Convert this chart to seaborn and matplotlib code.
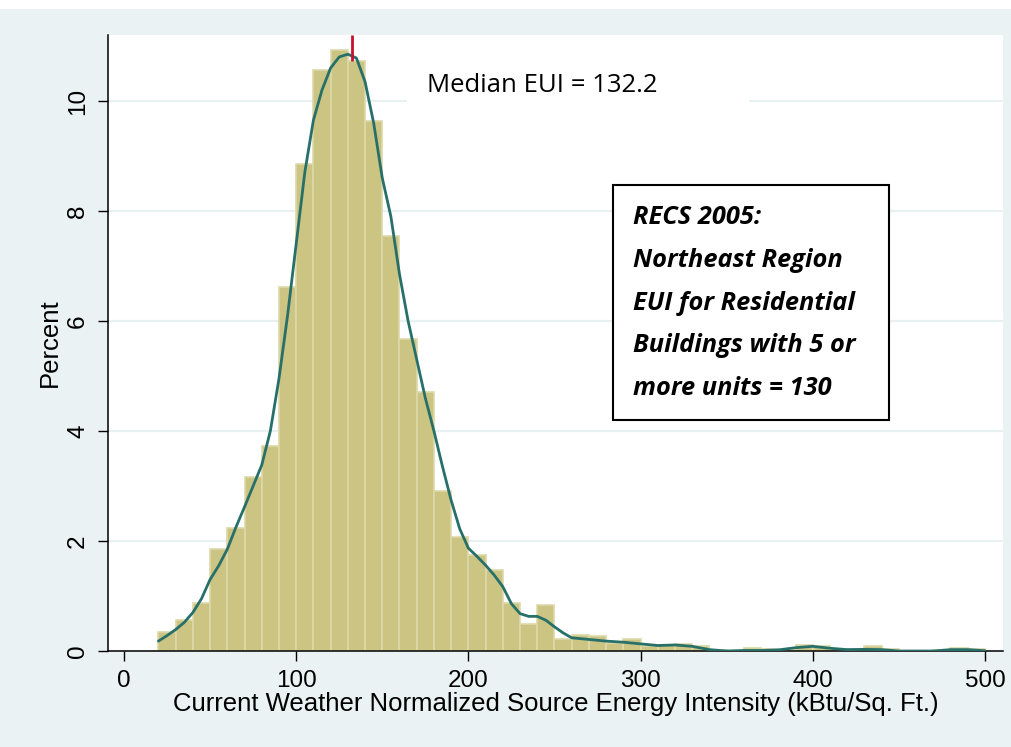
import numpy as np
import matplotlib
matplotlib.use("Agg")
import matplotlib.pyplot as plt
import seaborn as sns
from matplotlib.patches import Rectangle

# Histogram bins (left edges, width 10) and bar heights in percent
bin_left = [20, 30, 40, 50, 60, 70, 80, 90, 100, 110, 120, 130, 140, 150, 160, 170,
            180, 190, 200, 210, 220, 230, 240, 250, 260, 270, 280, 290, 300, 310, 320, 330,
            340, 350, 360, 370, 380, 390, 400, 410, 420, 430, 440, 450, 460, 470, 480, 490]
bin_pct = [0.35, 0.56, 0.88, 1.86, 2.24, 3.17, 3.73, 6.61, 8.85, 10.57, 10.92, 10.72, 9.63, 7.54, 5.68, 4.70,
           2.91, 2.07, 1.74, 1.47, 0.87, 0.50, 0.83, 0.22, 0.29, 0.27, 0.15, 0.21, 0.10, 0.11, 0.13, 0.09,
           0.02, 0.0, 0.05, 0.03, 0.02, 0.11, 0.10, 0.04, 0.03, 0.10, 0.03, 0.0, 0.0, 0.02, 0.05, 0.03]
bin_width = 10

# Kernel density curve
kde_x = [20, 25, 30, 35, 40, 45, 50, 55, 60, 65, 70, 75, 80, 85, 90, 95, 100, 105, 110, 115,
         120, 125, 130, 135, 140, 145, 150, 155, 160, 165, 170, 175, 180, 185, 190, 195, 200,
         205, 210, 215, 220, 225, 230, 235, 240, 245, 250, 255, 260, 270, 280, 290, 300, 310,
         320, 330, 340, 350, 360, 370, 380, 390, 400, 410, 420, 430, 440, 450, 460, 470, 480,
         490, 500]
kde_y = [0.18, 0.28, 0.39, 0.52, 0.70, 0.95, 1.30, 1.55, 1.85, 2.25, 2.62, 3.00, 3.38, 4.00,
         4.95, 6.10, 7.40, 8.70, 9.65, 10.20, 10.60, 10.80, 10.85, 10.78, 10.35, 9.60, 8.60,
         7.90, 6.85, 6.00, 5.30, 4.60, 4.00, 3.35, 2.74, 2.22, 1.87, 1.72, 1.56, 1.38, 1.17,
         0.86, 0.68, 0.63, 0.63, 0.56, 0.44, 0.33, 0.24, 0.21, 0.18, 0.16, 0.13, 0.10, 0.11,
         0.085, 0.025, 0.0, 0.01, 0.01, 0.02, 0.06, 0.085, 0.05, 0.025, 0.03, 0.025, 0.0, 0.0,
         0.0, 0.025, 0.025, 0.005]

median_eui = 132.2
median_label = "Median EUI = 132.2"
box_lines = ["RECS 2005:", "Northeast Region", "EUI for Residential",
             "Buildings with 5 or", "more units = 130"]
x_ticks = [0, 100, 200, 300, 400, 500]
y_ticks = [0, 2, 4, 6, 8, 10]

BG = "#eaf2f3"
BAR = "#cbc482"
BAR_EDGE = "#ddd8a8"
LINE = "#27706a"

sns.set_style("white")
plt.rcParams["font.family"] = ["Liberation Sans", "DejaVu Sans"]
plt.rcParams.update({"text.color": "black", "axes.labelcolor": "black",
                     "xtick.color": "black", "ytick.color": "black"})

fig = plt.figure(figsize=(10.11, 7.47), dpi=100, facecolor=BG)
# white strip along the top edge (cut-off title area)
fig.patches.append(Rectangle((0, 0.988), 1, 0.012, transform=fig.transFigure,
                             facecolor="white", edgecolor="none", zorder=0))
ax = fig.add_axes([0.1068, 0.1285, 0.8853, 0.8247])
ax.set_facecolor("white")

edges = bin_left + [bin_left[-1] + bin_width]
centers = [b + bin_width / 2 for b in bin_left]
sns.histplot(x=centers, weights=bin_pct, bins=edges, ax=ax, color=BAR, alpha=1,
             edgecolor=BAR_EDGE, linewidth=1.2, zorder=2)
sns.lineplot(x=kde_x, y=kde_y, ax=ax, color=LINE, linewidth=2.0, zorder=3)

ax.set_xlim(-9.3, 510.5)
ax.set_ylim(0, 11.2)
ax.set_xticks(x_ticks)
ax.set_yticks(y_ticks)
ax.set_yticklabels([str(t) for t in y_ticks], rotation=90, va="center")
ax.yaxis.grid(True, color="#e8f0f2", linewidth=1.6, zorder=0)
ax.set_axisbelow(True)

for s in ["top", "right"]:
    ax.spines[s].set_visible(False)
for s in ["left", "bottom"]:
    ax.spines[s].set_color("black")
    ax.spines[s].set_linewidth(1.1)
ax.tick_params(axis="both", direction="out", length=7.5, width=1, color="black",
               labelsize=17.5, pad=6, bottom=True, left=True)

ax.set_xlabel("Current Weather Normalized Source Energy Intensity (kBtu/Sq. Ft.)",
              fontsize=18.5, labelpad=0)
ax.set_ylabel("Percent", fontsize=18.5, labelpad=4)

# median marker
ax.vlines(median_eui, 10.72, 11.2, color="#c8102e", linewidth=2, zorder=4, clip_on=False)

# white box behind the median label
ax.add_patch(Rectangle((164.3, 9.75), 198.7, 0.9, facecolor="white",
                       edgecolor="none", zorder=1))
ax.text(176, 10.16, median_label, fontsize=18.5, family=["Open Sans", "DejaVu Sans"],
        va="baseline", ha="left", zorder=5)

# info box
ax.add_patch(Rectangle((0.564, 0.375), 0.3086, 0.3815, transform=ax.transAxes,
                       facecolor="white", edgecolor="black", linewidth=1.5, zorder=5))
for i, line in enumerate(box_lines):
    base_px = 224.3 + i * 42.7
    ax.text(0.5866, (651 - base_px) / 616, line, transform=ax.transAxes,
            fontsize=18.3, fontweight="bold", fontstyle="italic",
            family=["Open Sans", "DejaVu Sans"], va="baseline", ha="left", zorder=6)

fig.savefig("out.png", dpi=100, facecolor=BG)
